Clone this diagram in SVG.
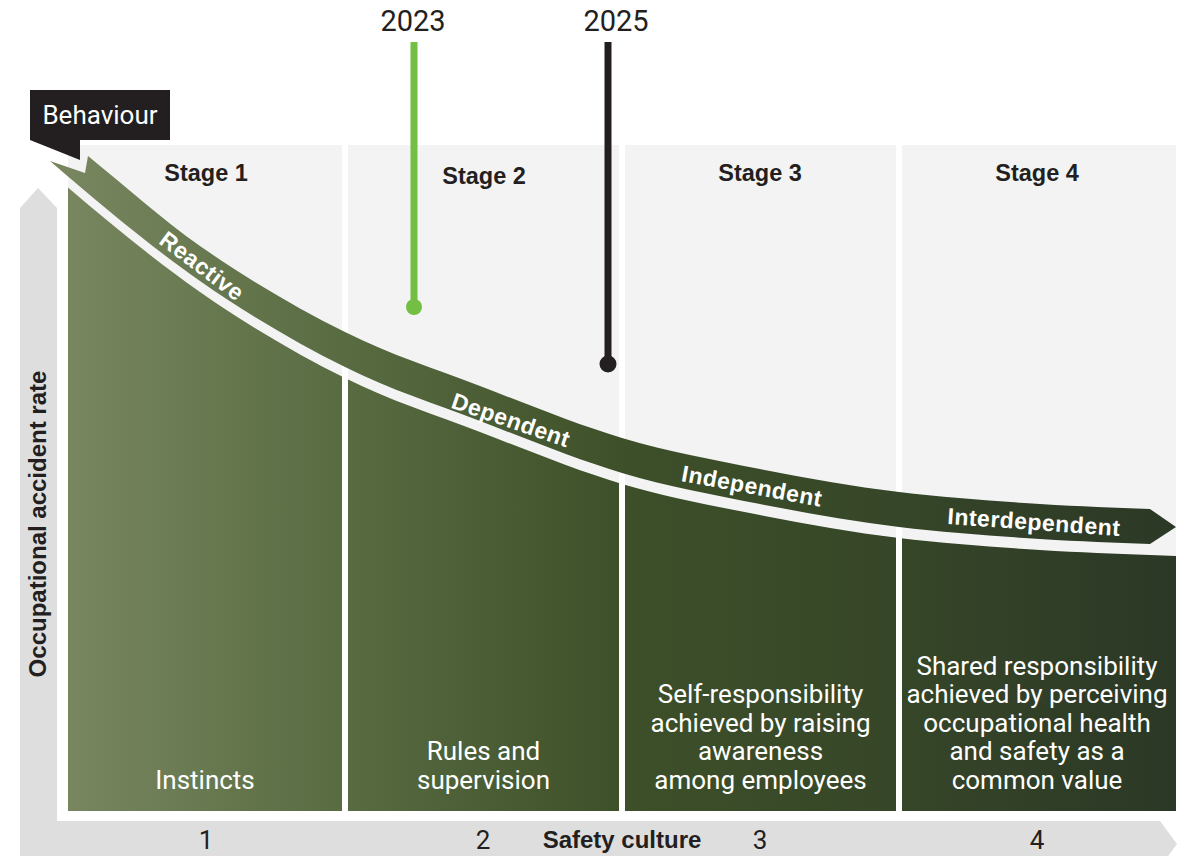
<svg xmlns="http://www.w3.org/2000/svg" width="1191" height="856" viewBox="0 0 1191 856">
<defs>
<style>
.panel{fill:#f3f3f3}
.lbl{font-family:"Liberation Sans",Arial,sans-serif;font-weight:bold;fill:#231f20}
.stage{font-size:23.5px;text-anchor:middle}
.rib{font-family:"Liberation Sans",Arial,sans-serif;font-weight:bold;font-size:23px;fill:#ffffff;text-anchor:middle;letter-spacing:0.5px}
.desc{font-family:Roboto,"Liberation Sans",sans-serif;font-size:26px;fill:#ffffff;text-anchor:middle}
.num{font-family:Roboto,"Liberation Sans",sans-serif;font-size:26px;fill:#231f20;text-anchor:middle}
.year{font-family:Roboto,"Liberation Sans",sans-serif;font-size:29px;fill:#231f20;text-anchor:middle}
</style>
<linearGradient id="g" gradientUnits="userSpaceOnUse" x1="68" y1="0" x2="1176" y2="0">
<stop offset="0" stop-color="#78865f"/>
<stop offset="0.25" stop-color="#586b41"/>
<stop offset="0.5" stop-color="#3d5029"/>
<stop offset="0.75" stop-color="#364628"/>
<stop offset="1" stop-color="#2b3826"/>
</linearGradient>
<clipPath id="cols">
<rect x="68" y="145" width="274" height="666"/>
<rect x="348" y="145" width="271" height="666"/>
<rect x="625" y="145" width="271" height="666"/>
<rect x="902" y="145" width="274" height="666"/>
</clipPath>
</defs>
<rect width="1191" height="856" fill="#ffffff"/>

<g id="axes">
<path d="M20,208 L38,188 L57,208 L57,821 L1160,821 L1177,844 L1160,867 L20,867 Z" fill="#dedede"/>
<text class="lbl" font-size="24" text-anchor="middle" transform="translate(46,524) rotate(-90)">Occupational accident rate</text>
<text class="lbl" font-size="24" text-anchor="middle" x="622" y="848">Safety culture</text>
<text class="num" x="206" y="849">1</text>
<text class="num" x="483" y="849">2</text>
<text class="num" x="760" y="849">3</text>
<text class="num" x="1037" y="849">4</text>
</g>

<g id="panels">
<rect class="panel" x="68" y="145" width="274" height="666"/>
<rect class="panel" x="348" y="145" width="271" height="666"/>
<rect class="panel" x="625" y="145" width="271" height="666"/>
<rect class="panel" x="902" y="145" width="274" height="666"/>
</g>

<g id="area">
<path clip-path="url(#cols)" fill="url(#g)" d="M50,172 C100,215 150.8,257.7 200,292 C249.2,326.3 298.3,354.7 345,378 C391.7,401.3 433.8,414.3 480,432 C526.2,449.7 575.3,470.2 622,484 C668.7,497.8 713.8,506 760,515 C806.2,524 852.3,532.2 899,538 C945.7,543.8 998.2,547.2 1040,550 C1081.8,552.8 1113.3,553.3 1150,555 L1176,556 L1176,811 L50,811 Z"/>
</g>

<g id="stage1">
<text class="lbl stage" x="206" y="181">Stage 1</text>
<text class="desc" x="205" y="788.5">Instincts</text>
</g>
<g id="stage2">
<text class="lbl stage" x="484" y="184">Stage 2</text>
<text class="desc" x="483.5" y="760">Rules and</text>
<text class="desc" x="483.5" y="788.5">supervision</text>
</g>
<g id="stage3">
<text class="lbl stage" x="760" y="181">Stage 3</text>
<text class="desc" x="760.5" y="703">Self-responsibility</text>
<text class="desc" x="760.5" y="731.5">achieved by raising</text>
<text class="desc" x="760.5" y="760">awareness</text>
<text class="desc" x="760.5" y="788.5">among employees</text>
</g>
<g id="stage4">
<text class="lbl stage" x="1037" y="181">Stage 4</text>
<text class="desc" x="1037" y="674.5">Shared responsibility</text>
<text class="desc" x="1037" y="703">achieved by perceiving</text>
<text class="desc" x="1037" y="731.5">occupational health</text>
<text class="desc" x="1037" y="760">and safety as a</text>
<text class="desc" x="1037" y="788.5">common value</text>
</g>

<g id="ribbon">
<path fill="url(#g)" d="M88,156 C125,186 163,220.2 200,246 C249.2,280.3 298.3,308.7 345,332 C391.7,355.3 433.8,368.3 480,386 C526.2,403.7 575.3,424.2 622,438 C668.7,451.8 713.8,460 760,469 C806.2,478 852.3,486.2 899,492 C945.7,497.8 998.2,501.2 1040,504 C1081.8,506.8 1113.3,507.3 1150,509 L1176,527 L1150,544 C1113.3,542.3 1081.8,541.8 1040,539 C998.2,536.2 945.7,532.8 899,527 C852.3,521.2 806.2,513 760,504 C713.8,495 668.7,486.8 622,473 C575.3,459.2 526.2,438.7 480,421 C433.8,403.3 391.7,390.3 345,367 C298.3,343.7 249.2,315.3 200,281 C150.8,246.7 100,204 50,161 L85,173 Z"/>
<text class="rib" transform="translate(202,266) rotate(37)" x="0" y="8">Reactive</text>
<text class="rib" transform="translate(511,420) rotate(19)" x="0" y="8">Dependent</text>
<text class="rib" transform="translate(752,486) rotate(10.5)" x="0" y="8">Independent</text>
<text class="rib" transform="translate(1034,522) rotate(4)" x="0" y="8">Interdependent</text>
</g>

<g id="behaviour">
<path d="M30,90 L170,90 L170,140 L80,140 L80,160 L30,140 Z" fill="#231f20"/>
<text font-family="Roboto,'Liberation Sans',sans-serif" font-size="26" fill="#ffffff" text-anchor="middle" x="100" y="124">Behaviour</text>
</g>

<g id="connectors">
<g id="y2023">
<text class="year" x="413" y="31">2023</text>
<line x1="414" y1="42" x2="414" y2="307" stroke="#72bf44" stroke-width="7"/>
<circle cx="414" cy="307" r="8" fill="#72bf44"/>
</g>
<g id="y2025">
<text class="year" x="616" y="31">2025</text>
<line x1="608" y1="42" x2="608" y2="364" stroke="#231f20" stroke-width="7"/>
<circle cx="608" cy="364" r="8.5" fill="#231f20"/>
</g>
</g>
</svg>
